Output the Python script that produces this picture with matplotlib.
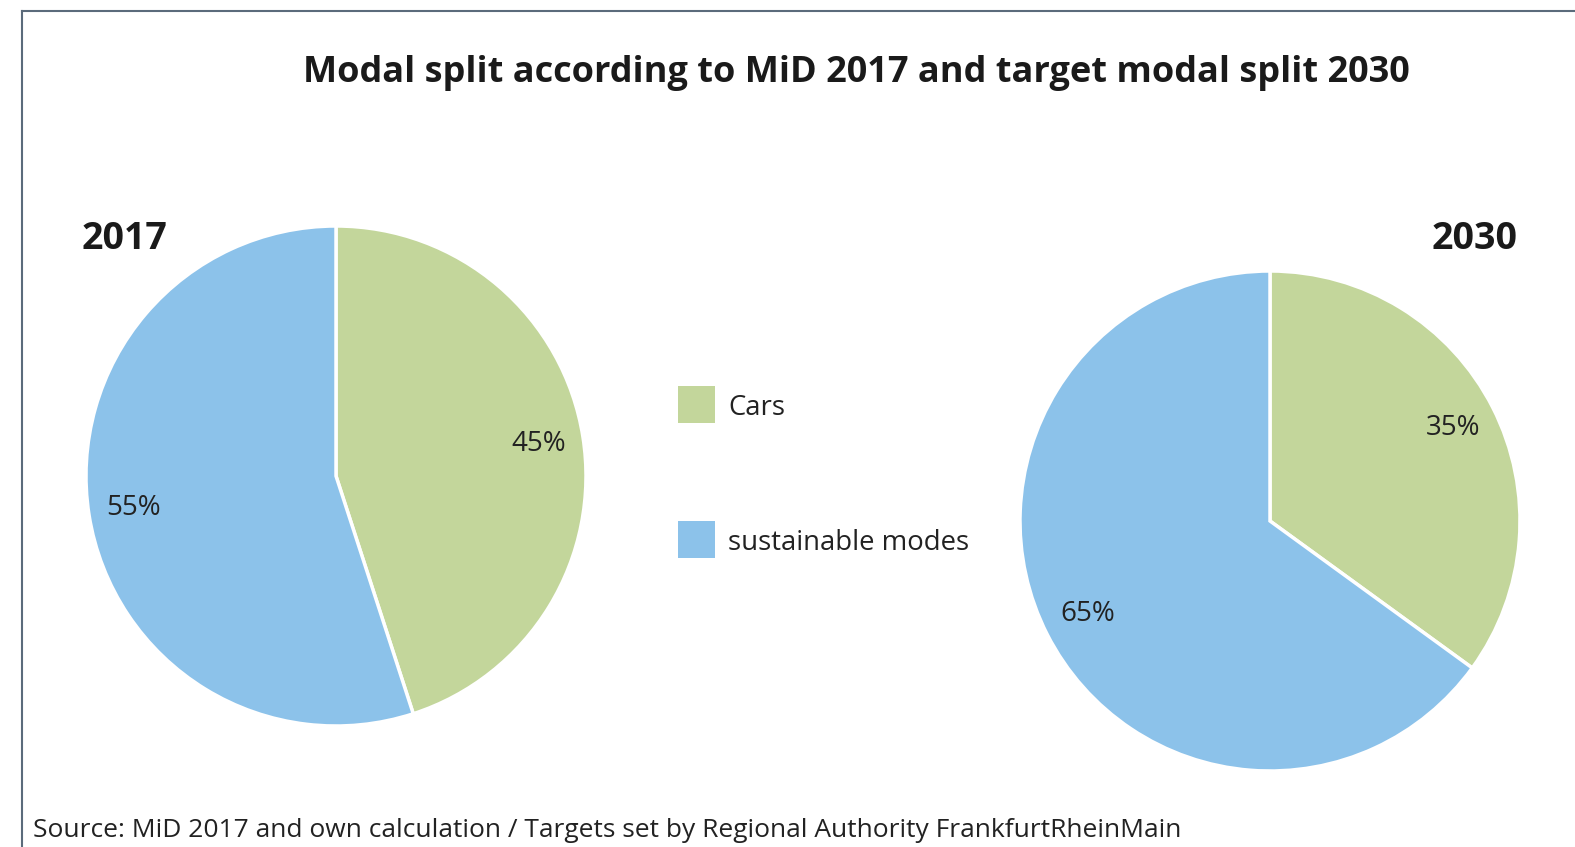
import matplotlib.pyplot as plt
from matplotlib.patches import Rectangle
from matplotlib.lines import Line2D

# data
categories = ['Cars', 'sustainable modes']
share_2017 = [45, 55]
share_2030 = [35, 65]
years = ['2017', '2030']
colors = ['#c3d69b', '#8cc2ea']

plt.rcParams['font.family'] = ['Open Sans', 'DejaVu Sans']

W, H = 1575, 847
fig = plt.figure(figsize=(W / 100, H / 100), dpi=100)
fig.patch.set_facecolor('white')


def pie_axes(cx, cy, r):
    # cx, cy, r in pixels (y from top)
    return fig.add_axes([(cx - r) / W, (H - cy - r) / H, 2 * r / W, 2 * r / H])


def draw_pie(ax, values):
    ax.pie(values, colors=colors, startangle=90, counterclock=False,
           autopct='%1.0f%%', pctdistance=0.82, radius=1,
           wedgeprops=dict(edgecolor='white', linewidth=2.5),
           textprops=dict(fontsize=20, color='#222222'))
    ax.set_xlim(-1, 1)
    ax.set_ylim(-1, 1)
    ax.set_aspect('equal')
    ax.axis('off')


ax1 = pie_axes(336, 476, 250)
draw_pie(ax1, share_2017)
ax2 = pie_axes(1270, 521, 250)
draw_pie(ax2, share_2030)

# frame lines (top and left)
fig.add_artist(Line2D([22 / W, 1.0], [1 - 11 / H, 1 - 11 / H], color='#5b6b7b', lw=1.5))
fig.add_artist(Line2D([22 / W, 22 / W], [0, 1 - 11 / H], color='#5b6b7b', lw=1.5))

fig.text(856 / W, 1 - 73 / H, 'Modal split according to MiD 2017 and target modal split 2030',
         ha='center', va='center', fontsize=26, fontweight='bold', color='#1a1a1a')
fig.text(125 / W, 1 - 239 / H, years[0], ha='center', va='center',
         fontsize=27, fontweight='bold', color='#1a1a1a')
fig.text(1475 / W, 1 - 239 / H, years[1], ha='center', va='center',
         fontsize=27, fontweight='bold', color='#1a1a1a')

# legend
for i, (cat, col) in enumerate(zip(categories, colors)):
    y = 386 + i * 135
    fig.add_artist(Rectangle((678 / W, 1 - (y + 37) / H), 37 / W, 37 / H,
                             transform=fig.transFigure, facecolor=col, edgecolor='none'))
    fig.text(728 / W, 1 - (y + 22) / H, cat, ha='left', va='center',
             fontsize=19.8, color='#222222')

fig.text(33 / W, 1 - 830 / H,
         'Source: MiD 2017 and own calculation / Targets set by Regional Authority FrankfurtRheinMain',
         ha='left', va='center', fontsize=19, color='#222222')

fig.savefig('out.png', dpi=100, facecolor='white')
